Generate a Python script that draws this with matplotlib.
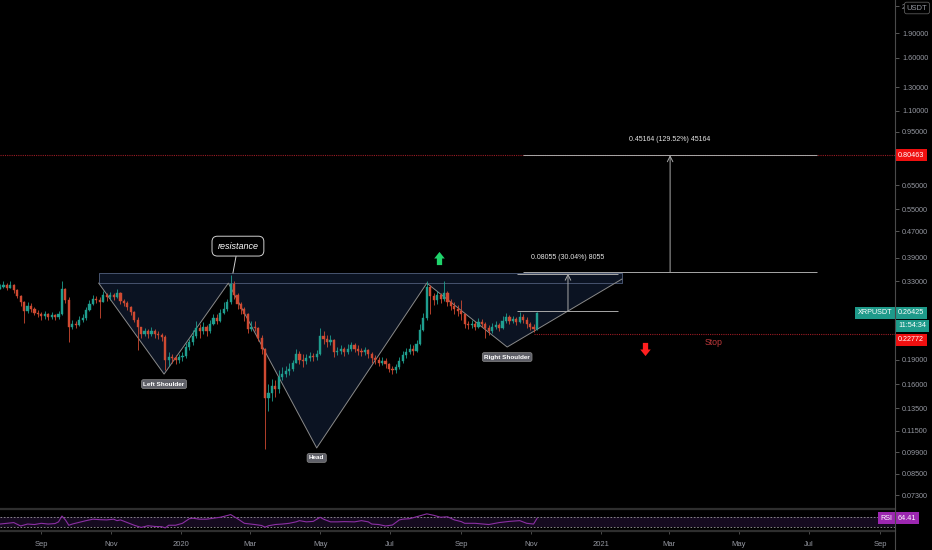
import numpy as np
import pandas as pd
import matplotlib
matplotlib.use("Agg")
import matplotlib.pyplot as plt
import matplotlib.dates as mdates
from matplotlib.lines import Line2D
from matplotlib.path import Path
from matplotlib.ticker import NullLocator, NullFormatter

plt.rcParams['font.family'] = ['Liberation Sans', 'DejaVu Sans']

# --- XRPUSDT, 3-day candles ---
start = pd.Timestamp('2019-07-27')
step_days = 3
first_open = 0.312

closes = [0.318, 0.322, 0.316, 0.322, 0.310, 0.298, 0.285, 0.268, 0.278, 0.272,
          0.265, 0.262, 0.258, 0.262, 0.257, 0.260, 0.256, 0.262, 0.312, 0.290,
          0.240, 0.245, 0.243, 0.252, 0.255, 0.270, 0.282, 0.292, 0.290, 0.285,
          0.300, 0.295, 0.300, 0.296, 0.305, 0.288, 0.284, 0.276, 0.266, 0.252,
          0.240, 0.228, 0.232, 0.227, 0.233, 0.228, 0.226, 0.223, 0.190, 0.194,
          0.192, 0.190, 0.193, 0.195, 0.208, 0.215, 0.225, 0.238, 0.232, 0.240,
          0.232, 0.245, 0.255, 0.250, 0.265, 0.272, 0.285, 0.325, 0.300, 0.282,
          0.272, 0.262, 0.236, 0.240, 0.238, 0.222, 0.205, 0.145, 0.150, 0.158,
          0.155, 0.168, 0.172, 0.175, 0.178, 0.185, 0.198, 0.190, 0.188, 0.192,
          0.195, 0.193, 0.198, 0.225, 0.220, 0.215, 0.218, 0.200, 0.202, 0.205,
          0.200, 0.205, 0.210, 0.205, 0.202, 0.200, 0.203, 0.198, 0.192, 0.190,
          0.186, 0.188, 0.184, 0.178, 0.176, 0.180, 0.188, 0.196, 0.200, 0.205,
          0.202, 0.212, 0.235, 0.255, 0.318, 0.298, 0.290, 0.300, 0.292, 0.305,
          0.285, 0.278, 0.272, 0.268, 0.262, 0.245, 0.242, 0.245, 0.240, 0.248,
          0.245, 0.238, 0.232, 0.240, 0.242, 0.238, 0.250, 0.256, 0.250, 0.254,
          0.248, 0.256, 0.252, 0.244, 0.240, 0.236, 0.264]
highs = [0.325, 0.330, 0.326, 0.332, 0.323, 0.312, 0.300, 0.288, 0.285, 0.283,
         0.276, 0.270, 0.266, 0.268, 0.265, 0.266, 0.263, 0.268, 0.330, 0.315,
         0.295, 0.252, 0.250, 0.258, 0.262, 0.275, 0.290, 0.300, 0.298, 0.295,
         0.308, 0.305, 0.306, 0.304, 0.312, 0.306, 0.292, 0.288, 0.278, 0.268,
         0.256, 0.240, 0.238, 0.236, 0.240, 0.236, 0.233, 0.230, 0.226, 0.200,
         0.198, 0.196, 0.198, 0.200, 0.213, 0.220, 0.235, 0.250, 0.245, 0.248,
         0.242, 0.252, 0.262, 0.262, 0.272, 0.285, 0.292, 0.345, 0.330, 0.305,
         0.286, 0.275, 0.265, 0.250, 0.250, 0.240, 0.226, 0.206, 0.160, 0.166,
         0.165, 0.176, 0.180, 0.182, 0.185, 0.190, 0.205, 0.202, 0.198, 0.198,
         0.200, 0.199, 0.203, 0.238, 0.232, 0.226, 0.226, 0.220, 0.208, 0.210,
         0.208, 0.212, 0.215, 0.214, 0.210, 0.206, 0.208, 0.205, 0.200, 0.196,
         0.194, 0.194, 0.192, 0.186, 0.182, 0.184, 0.194, 0.202, 0.206, 0.212,
         0.210, 0.218, 0.245, 0.265, 0.330, 0.322, 0.305, 0.308, 0.305, 0.332,
         0.308, 0.292, 0.285, 0.280, 0.290, 0.262, 0.250, 0.252, 0.250, 0.255,
         0.254, 0.248, 0.242, 0.246, 0.250, 0.246, 0.258, 0.265, 0.260, 0.258,
         0.256, 0.266, 0.262, 0.256, 0.248, 0.244, 0.266]
lows = [0.312, 0.315, 0.310, 0.314, 0.305, 0.294, 0.278, 0.246, 0.264, 0.266,
        0.260, 0.256, 0.252, 0.254, 0.252, 0.253, 0.251, 0.253, 0.260, 0.283,
        0.215, 0.236, 0.237, 0.241, 0.248, 0.252, 0.268, 0.280, 0.283, 0.255,
        0.285, 0.288, 0.290, 0.290, 0.294, 0.282, 0.278, 0.270, 0.260, 0.247,
        0.204, 0.222, 0.225, 0.222, 0.225, 0.222, 0.220, 0.216, 0.176, 0.182,
        0.186, 0.184, 0.186, 0.188, 0.192, 0.204, 0.210, 0.222, 0.222, 0.228,
        0.225, 0.230, 0.242, 0.244, 0.248, 0.262, 0.268, 0.282, 0.292, 0.272,
        0.262, 0.250, 0.230, 0.232, 0.232, 0.216, 0.198, 0.101, 0.132, 0.142,
        0.146, 0.150, 0.165, 0.168, 0.171, 0.175, 0.185, 0.184, 0.180, 0.184,
        0.188, 0.188, 0.190, 0.196, 0.212, 0.208, 0.210, 0.193, 0.196, 0.198,
        0.195, 0.198, 0.202, 0.200, 0.197, 0.195, 0.196, 0.192, 0.186, 0.184,
        0.182, 0.183, 0.179, 0.174, 0.172, 0.173, 0.178, 0.186, 0.192, 0.198,
        0.197, 0.200, 0.210, 0.232, 0.252, 0.262, 0.280, 0.282, 0.284, 0.288,
        0.278, 0.270, 0.262, 0.258, 0.252, 0.238, 0.236, 0.238, 0.235, 0.238,
        0.240, 0.222, 0.226, 0.230, 0.236, 0.233, 0.236, 0.246, 0.245, 0.246,
        0.243, 0.246, 0.246, 0.238, 0.234, 0.231, 0.234]

# RSI readings (candle index -> value)
rsi_idx = [0, 2, 4, 5, 6, 8, 10, 12, 14, 16,
           17, 18, 19, 20, 21, 23, 25, 27, 29, 31,
           33, 34, 35, 37, 39, 41, 43, 45, 47, 48,
           49, 51, 53, 55, 56, 58, 60, 62, 64, 66,
           67, 69, 71, 74, 76, 77, 78, 80, 82, 84,
           86, 87, 89, 91, 93, 94, 96, 98, 100, 103,
           105, 107, 108, 110, 112, 114, 116, 117, 119, 121,
           123, 124, 126, 128, 130, 132, 134, 135, 138, 142,
           145, 148, 151, 153, 155, 156]
rsi_val = [41, 44, 47, 40, 33, 41, 39, 44, 41, 43,
           50, 74, 58, 36, 41, 48, 55, 61, 59, 58,
           61, 55, 58, 47, 36, 27, 34, 31, 30, 25,
           36, 36, 44, 63, 65, 61, 61, 65, 69, 76,
           80, 63, 44, 39, 35, 28, 34, 39, 41, 44,
           50, 55, 50, 52, 69, 61, 50, 50, 51, 50,
           55, 50, 41, 39, 33, 37, 58, 61, 63, 71,
           79, 83, 77, 69, 71, 58, 51, 44, 44, 39,
           47, 52, 55, 44, 41, 64]
last_rsi = 64.41

price_ticks = [2.3, 1.9, 1.6, 1.3, 1.1, 0.95, 0.65, 0.55, 0.47, 0.39, 0.33,
               0.19, 0.16, 0.135, 0.115, 0.099, 0.085, 0.073]
# top label is mostly hidden under the currency box, only its "2" shows
price_labels = ['2', '1.90000', '1.60000', '1.30000', '1.10000', '0.95000', '0.65000',
                '0.55000', '0.47000', '0.39000', '0.33000', '0.19000', '0.16000',
                '0.13500', '0.11500', '0.09900', '0.08500', '0.07300']
month_ticks = ['2019-09-01', '2019-11-01', '2020-01-01', '2020-03-01', '2020-05-01',
               '2020-07-01', '2020-09-01', '2020-11-01', '2021-01-01', '2021-03-01',
               '2021-05-01', '2021-07-01', '2021-09-01']
month_labels = ['Sep', 'Nov', '2020', 'Mar', 'May', 'Jul', 'Sep', 'Nov', '2021',
                'Mar', 'May', 'Jul', 'Sep']

# inverse head & shoulders drawing
hs_dates = ['2019-10-21', '2019-12-17', '2020-02-11', '2020-04-28',
            '2020-08-02', '2020-10-11', '2021-01-19']
hs_prices = [0.326, 0.1716, 0.326, 0.1019, 0.326, 0.2077, 0.3355]
neck_price = 0.326
rect_top = 0.350
resist_date = '2020-02-15'

# price-range measures
target_price = 0.80463
big_range = ('2020-10-25', '2021-07-08', '2021-03-02', 0.35299, target_price)
small_range = ('2020-10-20', '2021-01-16', '2020-12-03', 0.26815, 0.3487)
big_text = '0.45164 (129.52%) 45164'
small_text = '0.08055 (30.04%) 8055'

stop_price = 0.22772
stop_from = '2020-11-03'
stop_text_date = '2021-04-09'
last_price = 0.26425
up_arrow = ('2020-08-13', 0.389)
down_arrow = ('2021-02-08', 0.2048)

UP = '#1f9e8f'
DOWN = '#cf4a32'
BG = '#000000'
TXT = '#9598a1'
W, H = 932, 550


def d(s):
    return mdates.date2num(pd.Timestamp(s))


closes = np.array(closes)
highs = np.array(highs)
lows = np.array(lows)
opens = np.r_[first_open, closes[:-1]]
dates = start + pd.to_timedelta(np.arange(len(closes)) * step_days, unit='D')
xs = mdates.date2num(dates.to_pydatetime())
x0, x1 = d(start), d(start) + 780

fig = plt.figure(figsize=(W / 100, H / 100), dpi=100, facecolor=BG)
ax = fig.add_axes([0, 1 - 508 / H, 895 / W, 508 / H], facecolor=BG)
ax_rsi = fig.add_axes([0, 1 - 531 / H, 895 / W, 21 / H], facecolor=BG)

# pattern fill + rectangle
hx = [d(s) for s in hs_dates]
ax.fill(hx + [hx[-1], hx[0]], hs_prices + [neck_price, neck_price],
        color='#0b1322', zorder=1, lw=0)
ax.fill_between([hx[0], hx[-1]], neck_price, rect_top, color='#0b1322', zorder=1, lw=0)
ax.plot([hx[0], hx[-1], hx[-1], hx[0], hx[0]],
        [neck_price, neck_price, rect_top, rect_top, neck_price],
        color='#46536e', lw=0.7, zorder=2)
ax.plot(hx, hs_prices, color='#8a8a8a', lw=0.7, zorder=2)

# candles
up = closes >= opens
cols = np.where(up, UP, DOWN)
ax.vlines(xs, lows, highs, colors=cols, lw=0.6, zorder=3)
lo_b = np.minimum(opens, closes)
hi_b = np.maximum(opens, closes)
ax.bar(xs, hi_b - lo_b, bottom=lo_b, width=1.9, color=cols, edgecolor=cols,
       linewidth=0.3, zorder=4)

# horizontal lines
ax.axhline(target_price, color='#9b1c24', lw=0.8, ls=(0, (1, 1)), zorder=2)
ax.hlines(stop_price, d(stop_from), x1, color='#9b1c24', lw=0.8, ls=(0, (1, 1)), zorder=2)
ax.annotate('Stop', xy=(d(stop_text_date), stop_price), xytext=(0, -5.8),
            textcoords='offset points', ha='center', va='center', fontsize=6.3,
            color='#c0393b')

# measures
for (a, b, mid, lo, hi), txt in [(big_range, big_text), (small_range, small_text)]:
    ax.hlines([lo, hi], d(a), d(b), color='#a8a8a8', lw=0.7, zorder=5)
    ax.annotate('', xy=(d(mid), hi), xytext=(d(mid), lo),
                arrowprops=dict(arrowstyle='->', color='#a8a8a8', lw=0.7,
                                shrinkA=0, shrinkB=0), zorder=5)
    ax.annotate(txt, xy=(d(mid), hi), xytext=(0, 11.5), textcoords='offset points',
                ha='center', va='center', fontsize=5.0, color='#e6e6e6')

# arrows
up_path = Path([(-0.4, -1), (0.4, -1), (0.4, 0), (0.8, 0), (0, 1), (-0.8, 0),
                (-0.4, 0), (-0.4, -1)], closed=True)
down_path = Path([(x, -y) for x, y in up_path.vertices], closed=True)
ax.plot(d(up_arrow[0]), up_arrow[1], marker=up_path, ms=9.5, color='#1fd36b', mew=0, zorder=6)
ax.plot(d(down_arrow[0]), down_arrow[1], marker=down_path, ms=9.5, color='#ff1f1f', mew=0, zorder=6)

# pattern labels
lab_box = dict(boxstyle='round,pad=0.3', fc='#5f6068', ec='#8a8a8a', lw=0.5)
for i, name in [(1, 'Left Shoulder'), (3, 'Head'), (5, 'Right Shoulder')]:
    ax.annotate(name, xy=(hx[i], hs_prices[i]), xytext=(0, -7.2), textcoords='offset points',
                ha='center', va='center', fontsize=4.6, color='white',
                fontweight='bold', bbox=lab_box, zorder=7)

ax.annotate('resistance', xy=(d(resist_date), rect_top), xytext=(3.6, 19.4),
            textcoords='offset points', ha='center', va='center', fontsize=6.5,
            style='italic', color='white',
            bbox=dict(boxstyle='round,pad=0.6', fc=BG, ec='#d0d0d0', lw=0.7),
            arrowprops=dict(arrowstyle='-', color='#d0d0d0', lw=0.7, shrinkA=0, shrinkB=0),
            zorder=7)

# axes setup
ax.set_yscale('log')
ax.set_xlim(x0, x1)
ax.set_ylim(0.0667, 2.404)
ax.yaxis.tick_right()
ax.set_yticks(price_ticks)
ax.set_yticklabels(price_labels)
ax.yaxis.set_minor_locator(NullLocator())
ax.yaxis.set_minor_formatter(NullFormatter())
ax.tick_params(axis='y', direction='out', length=3, width=0.6, color='#666666',
               labelcolor=TXT, labelsize=5.2, pad=2)
ax.tick_params(axis='x', bottom=False, labelbottom=False)
for s in ax.spines.values():
    s.set_visible(False)


def axis_tag(a, y, text, fc, dy=0.0):
    a.annotate(text, xy=(1, y), xycoords=('axes fraction', 'data'), xytext=(2.2, dy),
               textcoords='offset points', ha='left', va='center', fontsize=5.2,
               color='white', bbox=dict(boxstyle='square,pad=0.35', fc=fc, ec='none'),
               annotation_clip=False, zorder=8)


axis_tag(ax, target_price, '0.80463', '#f01010')
axis_tag(ax, last_price, '0.26425', '#1e9a8a')
axis_tag(ax, last_price, '11:54:34', '#1e9a8a', dy=-9.4)
axis_tag(ax, stop_price, '0.22772', '#f01010', dy=-4.3)
ax.annotate('XRPUSDT', xy=(1, last_price), xycoords=('axes fraction', 'data'),
            xytext=(-2, 0), textcoords='offset points', ha='right', va='center',
            fontsize=5.2, color='white',
            bbox=dict(boxstyle='square,pad=0.35', fc='#1e9a8a', ec='none'),
            annotation_clip=False, zorder=8)

# RSI pane
ax_rsi.axhspan(30, 70, color='#150a1f', lw=0)
for lvl in (30, 70):
    ax_rsi.axhline(lvl, color='#9a9a9a', lw=0.6, ls=(0, (2, 2)))
ax_rsi.plot(xs[rsi_idx], rsi_val, color='#8b2fa3', lw=0.8)
ax_rsi.set_xlim(x0, x1)
ax_rsi.set_ylim(12.3, 98.9)
ax_rsi.set_yticks([])
ax_rsi.set_xticks([d(m) for m in month_ticks])
ax_rsi.set_xticklabels(month_labels)
ax_rsi.tick_params(axis='x', length=2, width=0.6, color='#555555', labelcolor=TXT,
                   labelsize=5.5, pad=5)
for s in ax_rsi.spines.values():
    s.set_visible(False)
axis_tag(ax_rsi, last_rsi, '64.41', '#9c27b0')
ax_rsi.annotate('RSI', xy=(1, last_rsi), xycoords=('axes fraction', 'data'),
                xytext=(-2, 0), textcoords='offset points', ha='right', va='center',
                fontsize=5.2, color='white',
                bbox=dict(boxstyle='square,pad=0.35', fc='#9c27b0', ec='none'),
                annotation_clip=False, zorder=8)

# pane separators and price scale border
for yy in (509, 531):
    fig.add_artist(Line2D([0, 895 / W], [1 - yy / H] * 2, color='#2e2e2e', lw=1.6))
fig.add_artist(Line2D([895 / W] * 2, [0, 1], color='#4a4a4a', lw=0.8))

fig.text(917 / W, 1 - 8 / H, 'USDT', ha='center', va='center', fontsize=5.5, color=TXT,
         bbox=dict(boxstyle='round,pad=0.3', fc=BG, ec='#5a5a5a', lw=0.6))

fig.savefig('out.png', dpi=100, facecolor=BG)
